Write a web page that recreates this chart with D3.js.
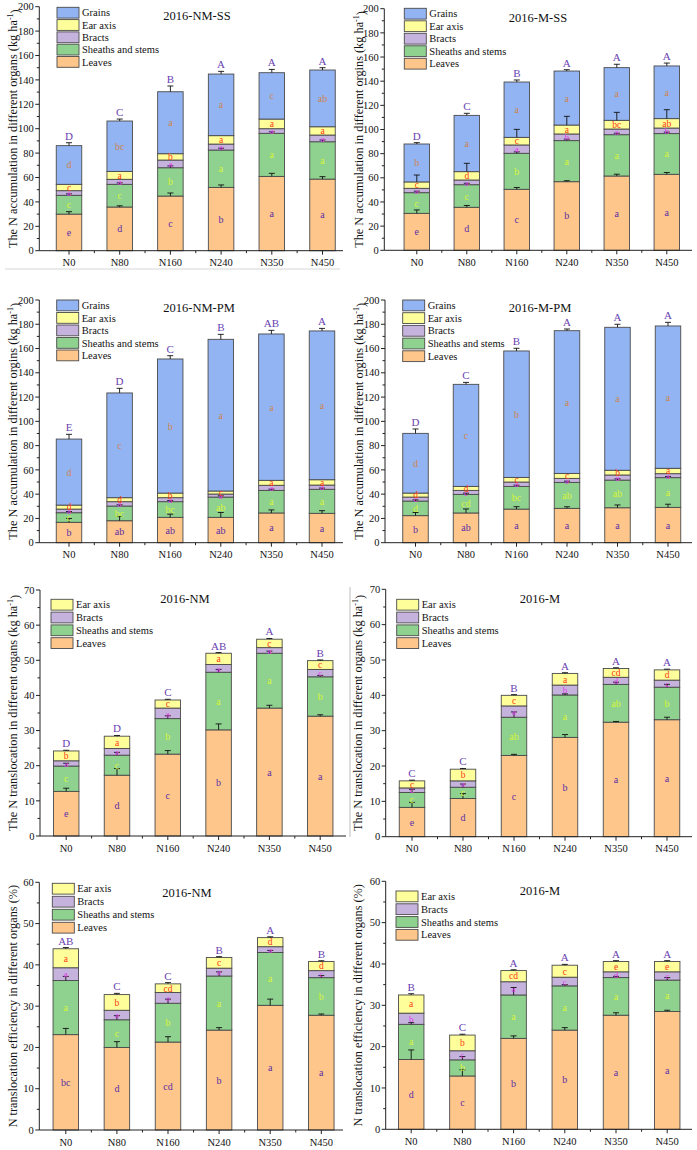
<!DOCTYPE html>
<html><head><meta charset="utf-8">
<script src="https://cdn.jsdelivr.net/npm/d3@7"></script>
<style>body{margin:0;background:#fff}svg{display:block}text{font-family:"Liberation Serif","Times New Roman",serif}</style>
</head><body>
<svg id="c" width="697" height="1150"></svg>
<script>
const doses = ["N0","N80","N160","N240","N350","N450"];

// ---- Panel 1: 2016-NM-SS (N accumulation)
const NMSS_leaves  = [30.0, 35.8, 44.8, 51.9, 60.9, 58.7];
const NMSS_sheaths = [15.4, 18.6, 23.2, 30.6, 35.3, 30.6];
const NMSS_bracts  = [3.8, 4.1, 6.3, 4.9, 3.8, 5.5];
const NMSS_ear     = [5.2, 6.5, 5.2, 6.9, 7.9, 6.8];
const NMSS_grains  = [31.7, 41.3, 50.8, 50.5, 38.0, 46.5];
const NMSS_errLeaves  = [2.0, 1.0, 2.5, 2.0, 2.5, 2.0];
const NMSS_errSheaths = [1.2, 1.2, 1.5, 1.5, 1.2, 1.4];
const NMSS_errEar     = [0, 0, 0, 0, 0, 0];
const NMSS_errTotal   = [2.4, 1.6, 4.7, 2.2, 2.7, 1.9];
const NMSS_letLeaves  = ["e","d","c","b","a","a"];
const NMSS_letSheaths = ["c","c","b","a","a","a"];
const NMSS_letBracts  = ["a","a","a","a","a","a"];
const NMSS_letEar     = ["c","a","b","a","a","a"];
const NMSS_letGrains  = ["d","bc","a","a","c","ab"];
const NMSS_letTotal   = ["D","C","B","A","A","A"];

// ---- Panel 2: 2016-M-SS
const MSS_leaves  = [30.6, 35.6, 50.5, 56.8, 61.5, 62.9];
const MSS_sheaths = [17.1, 18.7, 29.8, 34.0, 34.2, 33.7];
const MSS_bracts  = [3.6, 3.9, 6.9, 5.5, 4.7, 4.6];
const MSS_ear     = [5.3, 6.9, 6.3, 7.4, 7.2, 7.8];
const MSS_grains  = [31.4, 46.6, 45.8, 44.7, 43.6, 43.6];
const MSS_errLeaves  = [2.8, 1.5, 1.5, 0.8, 1.5, 1.5];
const MSS_errSheaths = [1.2, 1.2, 1.2, 1.2, 1.2, 1.2];
const MSS_errEar     = [5.7, 6.9, 6.6, 7.2, 6.6, 7.4];
const MSS_errTotal   = [1.1, 1.7, 1.7, 1.1, 2.8, 2.4];
const MSS_letLeaves  = ["e","d","c","b","a","a"];
const MSS_letSheaths = ["c","c","b","a","a","a"];
const MSS_letBracts  = ["a","a","a","b","a","b"];
const MSS_letEar     = ["c","d","c","a","bc","ab"];
const MSS_letGrains  = ["b","a","a","a","a","a"];
const MSS_letTotal   = ["D","C","B","A","A","A"];

// ---- Panel 3: 2016-NM-PM
const NMPM_leaves  = [16.8, 18.1, 20.9, 20.9, 24.5, 24.2];
const NMPM_sheaths = [7.9, 12.1, 12.9, 16.7, 18.6, 19.8];
const NMPM_bracts  = [3.0, 3.6, 3.3, 2.5, 4.2, 3.5];
const NMPM_ear     = [3.3, 3.3, 3.8, 2.5, 4.1, 4.4];
const NMPM_grains  = [54.4, 86.3, 110.5, 125.0, 120.6, 122.6];
const NMPM_errLeaves  = [3.2, 3.5, 2.6, 4.0, 2.5, 2.2];
const NMPM_errSheaths = [1.0, 1.0, 1.0, 1.0, 1.0, 1.0];
const NMPM_errEar     = [0, 0, 0, 0, 0, 0];
const NMPM_errTotal   = [3.9, 3.8, 2.7, 4.1, 3.0, 2.1];
const NMPM_letLeaves  = ["b","ab","ab","ab","a","a"];
const NMPM_letSheaths = ["c","bc","bc","ab","a","a"];
const NMPM_letBracts  = ["a","a","a","a","a","a"];
const NMPM_letEar     = ["d","d","b","c","a","a"];
const NMPM_letGrains  = ["d","c","b","a","a","a"];
const NMPM_letTotal   = ["E","D","C","B","AB","A"];

// ---- Panel 4: 2016-M-PM
const MPM_leaves  = [22.3, 24.5, 27.7, 28.3, 28.8, 29.1];
const MPM_sheaths = [12.0, 15.3, 18.7, 21.4, 22.8, 24.5];
const MPM_bracts  = [3.3, 3.3, 3.6, 3.3, 4.2, 3.3];
const MPM_ear     = [3.3, 3.3, 3.8, 4.1, 3.9, 4.4];
const MPM_grains  = [49.2, 84.1, 104.2, 117.6, 117.8, 117.3];
const MPM_errLeaves  = [2.6, 3.3, 2.0, 1.3, 2.3, 2.6];
const MPM_errSheaths = [1.0, 1.0, 1.0, 1.0, 1.0, 1.0];
const MPM_errEar     = [0, 0, 0, 0, 0, 0];
const MPM_errTotal   = [3.6, 1.6, 2.2, 1.4, 2.5, 3.0];
const MPM_letLeaves  = ["b","ab","a","a","a","a"];
const MPM_letSheaths = ["d","cd","bc","ab","ab","a"];
const MPM_letBracts  = ["c","c","a","a","a","a"];
const MPM_letEar     = ["d","d","c","c","b","a"];
const MPM_letGrains  = ["d","c","b","a","a","a"];
const MPM_letTotal   = ["D","C","B","A","A","A"];

// ---- Panel 5: 2016-NM (N translocation)
const TNM_leaves  = [12.7, 17.3, 23.3, 30.2, 36.4, 34.1];
const TNM_sheaths = [7.2, 5.7, 10.1, 16.4, 15.6, 11.2];
const TNM_bracts  = [1.5, 1.9, 3.0, 2.2, 1.6, 2.1];
const TNM_ear     = [2.8, 3.5, 2.3, 3.2, 2.4, 2.5];
const TNM_errLeaves  = [0.9, 1.9, 1.0, 1.7, 0.8, 0.4];
const TNM_errSheaths = [0.8, 0.8, 0.8, 0.8, 0.6, 0.4];
const TNM_errEar     = [0, 0, 0, 0, 0, 0];
const TNM_errTotal   = [0.2, 0.2, 0.2, 0.2, 0.2, 0.2];
const TNM_letLeaves  = ["e","d","c","b","a","a"];
const TNM_letSheaths = ["c","c","b","a","a","b"];
const TNM_letBracts  = ["a","a","a","a","a","c"];
const TNM_letEar     = ["b","a","c","a","c","c"];
const TNM_letTotal   = ["D","D","C","AB","A","B"];

// ---- Panel 6: 2016-M (N translocation)
const TM_leaves  = [8.3, 10.8, 23.0, 28.1, 32.4, 33.1];
const TM_sheaths = [4.2, 3.2, 10.8, 12.0, 10.7, 9.2];
const TM_bracts  = [1.3, 1.8, 3.2, 2.8, 2.0, 2.0];
const TM_ear     = [2.0, 3.3, 3.0, 3.3, 2.5, 2.9];
const TM_errLeaves  = [1.4, 1.4, 0.3, 0.8, 0.2, 0.7];
const TM_errSheaths = [0.9, 0.9, 1.5, 0.3, 0.6, 0.8];
const TM_errEar     = [0, 0, 0, 0, 0, 0];
const TM_errTotal   = [0.2, 0.2, 0.2, 0.2, 0.2, 0.2];
const TM_letLeaves  = ["e","d","c","b","a","a"];
const TM_letSheaths = ["c","c","ab","a","ab","b"];
const TM_letBracts  = ["c","a","a","b","d","c"];
const TM_letEar     = ["c","b","c","a","cd","d"];
const TM_letTotal   = ["C","C","B","A","A","A"];

// ---- Panel 7: 2016-NM (translocation efficiency)
const ENM_leaves  = [23.1, 20.0, 21.3, 24.2, 30.2, 27.8];
const ENM_sheaths = [13.1, 6.7, 9.4, 13.1, 12.8, 9.1];
const ENM_bracts  = [3.1, 2.3, 2.6, 1.9, 1.4, 1.7];
const ENM_ear     = [4.6, 3.8, 2.1, 2.6, 2.2, 2.2];
const ENM_errLeaves  = [1.5, 1.4, 1.3, 0.6, 1.5, 0.3];
const ENM_errSheaths = [1.0, 1.0, 1.0, 1.0, 0.5, 0.5];
const ENM_errEar     = [0, 0, 0, 0, 0, 0];
const ENM_errTotal   = [0.3, 0.3, 0.3, 0.2, 0.2, 0.2];
const ENM_letLeaves  = ["bc","d","cd","b","a","a"];
const ENM_letSheaths = ["a","c","b","a","a","b"];
const ENM_letBracts  = ["a","a","a","a","a","c"];
const ENM_letEar     = ["a","b","cd","c","d","d"];
const ENM_letTotal   = ["AB","C","C","B","A","B"];

// ---- Panel 8: 2016-M (translocation efficiency)
const EM_leaves  = [16.9, 12.9, 22.0, 24.0, 27.6, 28.5];
const EM_sheaths = [8.5, 3.9, 10.5, 10.7, 9.1, 7.6];
const EM_bracts  = [2.7, 2.2, 3.2, 2.1, 1.4, 2.0];
const EM_ear     = [4.4, 3.8, 2.7, 2.9, 2.5, 2.5];
const EM_errLeaves  = [2.3, 1.5, 0.6, 0.6, 0.6, 0.3];
const EM_errSheaths = [0.4, 0.8, 1.8, 0.3, 0.3, 0.6];
const EM_errEar     = [0, 0, 0, 0, 0, 0];
const EM_errTotal   = [0.3, 0.2, 0.2, 0.2, 0.2, 0.2];
const EM_letLeaves  = ["d","c","b","b","a","a"];
const EM_letSheaths = ["a","b","a","a","a","a"];
const EM_letBracts  = ["b","c","a","c","d","c"];
const EM_letEar     = ["a","b","cd","c","e","e"];
const EM_letTotal   = ["B","C","A","A","A","A"];

const legend5 = ["Grains","Ear axis","Bracts","Sheaths and stems","Leaves"];
const legend4 = ["Ear axis","Bracts","Sheaths and stems","Leaves"];

// styles
const colors = {"Leaves":"#fec68b","Sheaths and stems":"#8fd18f","Bracts":"#c5b3dd","Ear axis":"#fefe9a","Grains":"#93b4f3"};
const letterColors = {"Leaves":"#5a2ea6","Sheaths and stems":"#d8f53a","Bracts":"#e040e8","Ear axis":"#ff3a10","Grains":"#cc8450"};
const letterSizes = {"Leaves":10,"Sheaths and stems":10,"Bracts":9,"Ear axis":9.5,"Grains":10};
const upperColor = "#6a3fb2";

const svg = d3.select("#c");

function makePanel(name, series, errs, letters, upper, layout){
  return {name, series, errs, letters, upper, layout};
}

const panels = [
  makePanel("2016-NM-SS",
    {"Leaves":NMSS_leaves,"Sheaths and stems":NMSS_sheaths,"Bracts":NMSS_bracts,"Ear axis":NMSS_ear,"Grains":NMSS_grains},
    {leaves:NMSS_errLeaves,sheaths:NMSS_errSheaths,ear:NMSS_errEar,total:NMSS_errTotal},
    {"Leaves":NMSS_letLeaves,"Sheaths and stems":NMSS_letSheaths,"Bracts":NMSS_letBracts,"Ear axis":NMSS_letEar,"Grains":NMSS_letGrains},
    NMSS_letTotal,
    {x0:39.3,xEnd:343,y0:250.7,yTop:6.7,ymax:200,step:20,c0:69,sp:50.7,tx:197,ty:20,lx:57,ly:7.3,ls:12.3,labX:13,
     ylab:["The N accumulation in different organs (kg ha","-1",")"],legend:legend5}),
  makePanel("2016-M-SS",
    {"Leaves":MSS_leaves,"Sheaths and stems":MSS_sheaths,"Bracts":MSS_bracts,"Ear axis":MSS_ear,"Grains":MSS_grains},
    {leaves:MSS_errLeaves,sheaths:MSS_errSheaths,ear:MSS_errEar,total:MSS_errTotal},
    {"Leaves":MSS_letLeaves,"Sheaths and stems":MSS_letSheaths,"Bracts":MSS_letBracts,"Ear axis":MSS_letEar,"Grains":MSS_letGrains},
    MSS_letTotal,
    {x0:384.3,xEnd:692,y0:250.3,yTop:8.7,ymax:200,step:20,c0:416.8,sp:50.0,tx:538,ty:21.5,lx:404.3,ly:8.3,ls:12.5,labX:359,
     ylab:["The N accumulation in different orgins (kg ha","-1",")"],legend:legend5}),
  makePanel("2016-NM-PM",
    {"Leaves":NMPM_leaves,"Sheaths and stems":NMPM_sheaths,"Bracts":NMPM_bracts,"Ear axis":NMPM_ear,"Grains":NMPM_grains},
    {leaves:NMPM_errLeaves,sheaths:NMPM_errSheaths,ear:NMPM_errEar,total:NMPM_errTotal},
    {"Leaves":NMPM_letLeaves,"Sheaths and stems":NMPM_letSheaths,"Bracts":NMPM_letBracts,"Ear axis":NMPM_letEar,"Grains":NMPM_letGrains},
    NMPM_letTotal,
    {x0:39.3,xEnd:343,y0:542.7,yTop:300,ymax:200,step:20,c0:69,sp:50.6,tx:199,ty:312,lx:56.7,ly:300,ls:12.5,labX:13,
     ylab:["The N accumulation in different orgins (kg ha","-1",")"],legend:legend5}),
  makePanel("2016-M-PM",
    {"Leaves":MPM_leaves,"Sheaths and stems":MPM_sheaths,"Bracts":MPM_bracts,"Ear axis":MPM_ear,"Grains":MPM_grains},
    {leaves:MPM_errLeaves,sheaths:MPM_errSheaths,ear:MPM_errEar,total:MPM_errTotal},
    {"Leaves":MPM_letLeaves,"Sheaths and stems":MPM_letSheaths,"Bracts":MPM_letBracts,"Ear axis":MPM_letEar,"Grains":MPM_letGrains},
    MPM_letTotal,
    {x0:385,xEnd:692,y0:542.7,yTop:300,ymax:200,step:20,c0:415.5,sp:50.5,tx:540,ty:312,lx:402.7,ly:300,ls:12.7,labX:359,
     ylab:["The N accumulation in different orgins (kg ha","-1",")"],legend:legend5}),
  makePanel("2016-NM",
    {"Leaves":TNM_leaves,"Sheaths and stems":TNM_sheaths,"Bracts":TNM_bracts,"Ear axis":TNM_ear},
    {leaves:TNM_errLeaves,sheaths:TNM_errSheaths,ear:TNM_errEar,total:TNM_errTotal},
    {"Leaves":TNM_letLeaves,"Sheaths and stems":TNM_letSheaths,"Bracts":TNM_letBracts,"Ear axis":TNM_letEar},
    TNM_letTotal,
    {x0:40,xEnd:346,y0:836,yTop:590,ymax:70,step:10,c0:66.2,sp:50.8,tx:185,ty:603,lx:51,ly:599.3,ls:12.8,labX:13,
     ylab:["The N translocation in different organs (kg ha","-1",")"],legend:legend4}),
  makePanel("2016-M",
    {"Leaves":TM_leaves,"Sheaths and stems":TM_sheaths,"Bracts":TM_bracts,"Ear axis":TM_ear},
    {leaves:TM_errLeaves,sheaths:TM_errSheaths,ear:TM_errEar,total:TM_errTotal},
    {"Leaves":TM_letLeaves,"Sheaths and stems":TM_letSheaths,"Bracts":TM_letBracts,"Ear axis":TM_letEar},
    TM_letTotal,
    {x0:385.7,xEnd:692,y0:836.7,yTop:589.3,ymax:70,step:10,c0:412,sp:51,tx:540,ty:603,lx:396.7,ly:599.3,ls:12.8,labX:358,
     ylab:["The N translocation in different organs (kg ha","-1",")"],legend:legend4}),
  makePanel("2016-NM",
    {"Leaves":ENM_leaves,"Sheaths and stems":ENM_sheaths,"Bracts":ENM_bracts,"Ear axis":ENM_ear},
    {leaves:ENM_errLeaves,sheaths:ENM_errSheaths,ear:ENM_errEar,total:ENM_errTotal},
    {"Leaves":ENM_letLeaves,"Sheaths and stems":ENM_letSheaths,"Bracts":ENM_letBracts,"Ear axis":ENM_letEar},
    ENM_letTotal,
    {x0:39.3,xEnd:343,y0:1130,yTop:882.3,ymax:60,step:10,c0:65.8,sp:51.1,tx:187,ty:896.5,lx:52.3,ly:883.3,ls:13,labX:12.7,
     ylab:["N translocation efficiency in different organs (%)"],legend:legend4}),
  makePanel("2016-M",
    {"Leaves":EM_leaves,"Sheaths and stems":EM_sheaths,"Bracts":EM_bracts,"Ear axis":EM_ear},
    {leaves:EM_errLeaves,sheaths:EM_errSheaths,ear:EM_errEar,total:EM_errTotal},
    {"Leaves":EM_letLeaves,"Sheaths and stems":EM_letSheaths,"Bracts":EM_letBracts,"Ear axis":EM_letEar},
    EM_letTotal,
    {x0:385.7,xEnd:692,y0:1129.3,yTop:881.3,ymax:60,step:10,c0:411.2,sp:51.2,tx:540,ty:895,lx:396,ly:891,ls:12.8,labX:357.7,
     ylab:["N translocation efficiency in different organs (%)"],legend:legend4})
];

// separators
svg.append("line").attr("x1",5).attr("x2",340).attr("y1",269).attr("y2",269).attr("stroke","#d6d6d6").attr("stroke-width",1);
svg.append("line").attr("x1",350).attr("x2",350).attr("y1",587).attr("y2",837).attr("stroke","#bdbdbd").attr("stroke-width",1);

function drawPanel(p){
  const L = p.layout;
  const g = svg.append("g");
  const keys = Object.keys(p.series); // bottom -> top
  const y = d3.scaleLinear().domain([0,L.ymax]).range([L.y0,L.yTop]);
  const x = d3.scaleLinear().domain([0,doses.length-1]).range([L.c0, L.c0+(doses.length-1)*L.sp]);
  const bw = 25.5;
  const rows = doses.map((d,i)=>{const r={dose:d,i}; keys.forEach(k=>r[k]=p.series[k][i]); return r;});
  const stacked = d3.stack().keys(keys)(rows);

  // bars
  stacked.forEach(layer=>{
    g.append("g").selectAll("rect").data(layer).join("rect")
      .attr("x",d=>x(d.data.i)-bw/2).attr("width",bw)
      .attr("y",d=>y(d[1])).attr("height",d=>y(d[0])-y(d[1]))
      .attr("fill",colors[layer.key]).attr("stroke","#4a4a4a").attr("stroke-width",0.9);
  });

  // error bars
  const errDefs = [["Leaves",p.errs.leaves],["Sheaths and stems",p.errs.sheaths],["Ear axis",p.errs.ear]];
  const eg = g.append("g").attr("stroke","#111").attr("stroke-width",0.9);
  function errBar(i, top, e){
    if(!e) return;
    const cx = x(i);
    eg.append("line").attr("x1",cx).attr("x2",cx).attr("y1",y(top)).attr("y2",y(top+e));
    eg.append("line").attr("x1",cx-3).attr("x2",cx+3).attr("y1",y(top+e)).attr("y2",y(top+e));
  }
  errDefs.forEach(([k,arr])=>{
    const layer = stacked.find(l=>l.key===k);
    layer.forEach((d,i)=>errBar(i,d[1],arr[i]));
  });
  const topLayer = stacked[stacked.length-1];
  topLayer.forEach((d,i)=>errBar(i,d[1],p.errs.total[i]));

  // segment letters
  stacked.forEach(layer=>{
    g.append("g").selectAll("text").data(layer).join("text")
      .attr("x",d=>x(d.data.i)).attr("y",d=>(y(d[0])+y(d[1]))/2)
      .attr("dy","0.35em").attr("text-anchor","middle")
      .attr("font-size",letterSizes[layer.key]).attr("fill",letterColors[layer.key])
      .text((d,i)=>p.letters[layer.key][i]);
  });

  // upper letters
  g.append("g").selectAll("text").data(topLayer).join("text")
    .attr("x",d=>x(d.data.i)).attr("y",(d,i)=>y(d[1]+p.errs.total[i])-3)
    .attr("text-anchor","middle").attr("font-size",11).attr("fill",upperColor)
    .text((d,i)=>p.upper[i]);

  // axes
  const ax = g.append("g").attr("stroke","#222").attr("stroke-width",1);
  ax.append("line").attr("x1",L.x0).attr("x2",L.x0).attr("y1",L.y0).attr("y2",L.yTop);
  ax.append("line").attr("x1",L.x0).attr("x2",L.xEnd).attr("y1",L.y0).attr("y2",L.y0);
  const majors = d3.range(0,L.ymax+0.001,L.step);
  const minors = d3.range(L.step/2,L.ymax,L.step);
  majors.forEach(v=>ax.append("line").attr("x1",L.x0-4).attr("x2",L.x0).attr("y1",y(v)).attr("y2",y(v)));
  minors.forEach(v=>ax.append("line").attr("x1",L.x0-2.5).attr("x2",L.x0).attr("y1",y(v)).attr("y2",y(v)));
  g.append("g").selectAll("text").data(majors).join("text")
    .attr("x",L.x0-5.5).attr("y",d=>y(d)).attr("dy","0.35em").attr("text-anchor","end")
    .attr("font-size",10.5).attr("fill","#111").text(d=>d);
  doses.forEach((d,i)=>{
    ax.append("line").attr("x1",x(i)).attr("x2",x(i)).attr("y1",L.y0).attr("y2",L.y0+4);
    if(i<doses.length-1) ax.append("line").attr("x1",x(i+0.5)).attr("x2",x(i+0.5)).attr("y1",L.y0).attr("y2",L.y0+2.5);
  });
  g.append("g").selectAll("text").data(doses).join("text")
    .attr("x",(d,i)=>x(i)).attr("y",L.y0+15.5).attr("text-anchor","middle")
    .attr("font-size",10.5).attr("fill","#111").text(d=>d);

  // y label
  const cy = (L.y0+L.yTop)/2;
  const yl = g.append("text").attr("transform",`translate(${L.labX},${cy}) rotate(-90)`)
    .attr("text-anchor","middle").attr("dy","0.35em").attr("font-size",12.3).attr("fill","#111");
  yl.append("tspan").text(L.ylab[0]);
  if(L.ylab.length>1){
    yl.append("tspan").attr("font-size",8).attr("dy","-0.5em").text(L.ylab[1]);
    yl.append("tspan").attr("dy","0.5em").text(L.ylab[2]);
  }

  // title
  g.append("text").attr("x",L.tx).attr("y",L.ty).attr("text-anchor","middle")
    .attr("font-size",12.5).attr("fill","#111").text(p.name);

  // legend
  const lg = g.append("g");
  L.legend.forEach((k,j)=>{
    lg.append("rect").attr("x",L.lx).attr("y",L.ly+j*L.ls).attr("width",22).attr("height",10.8)
      .attr("fill",colors[k]).attr("stroke","#4a4a4a").attr("stroke-width",0.9);
    lg.append("text").attr("x",L.lx+25).attr("y",L.ly+j*L.ls+5.4).attr("dy","0.35em")
      .attr("font-size",10.5).attr("fill","#111").text(k);
  });
}

panels.forEach(drawPanel);
</script>
</body></html>
